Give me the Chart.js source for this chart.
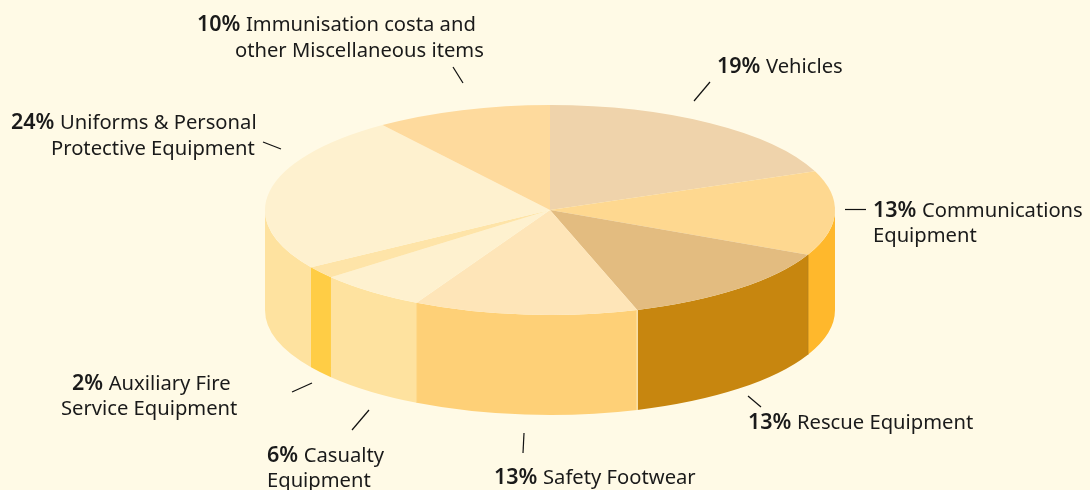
<!DOCTYPE html>
<html lang="en">
<head>
    <meta charset="UTF-8">
    <title>Expenditure breakdown</title>
    <script src="https://cdn.jsdelivr.net/npm/chart.js"></script>
    <style>
        html, body { margin: 0; padding: 0; background: #FFFAE6; overflow: hidden; }
        canvas { display: block; }
    </style>
</head>
<body>
    <canvas id="pieChart" width="1090" height="490"></canvas>

    <script>
        const categories = ['Vehicles', 'Communications Equipment', 'Rescue Equipment', 'Safety Footwear',
            'Casualty Equipment', 'Auxiliary Fire Service Equipment', 'Uniforms & Personal Protective Equipment',
            'Immunisation costa and other Miscellaneous items'];
        // printed (rounded) percentages
        const shareLabels = [19, 13, 13, 13, 6, 2, 24, 10];
        // slice sizes
        const sliceValues = [19, 13, 13.05, 12.7, 6.2, 1.88, 24.17, 10];
        const topColors = ['#EFD3AB', '#FED890', '#E3BC80', '#FEE5B8', '#FEF1CF', '#FEE4A8', '#FEF1CF', '#FEDA9D'];
        const wallColors = ['#EFD3AB', '#FFB82C', '#C7860F', '#FED077', '#FEE29F', '#FFCD45', '#FEE29F', '#FEDA9D'];
        // thin line on the wall at the start of each slice
        const seamColors = [null, null, '#B57C10', '#FFF3D0', '#FED88A', null, null, null];

        // pie shape on the page
        const pie = { x: 550, y: 210, rx: 285, ry: 105, depth: 100 };

        // label lines: first line of each gets the bold share in front of it
        const labelLines = [
            [['Vehicles', 717, 73]],
            [['Communications', 873, 217], ['Equipment', 873, 242]],
            [['Rescue Equipment', 748, 429]],
            [['Safety Footwear', 494, 484]],
            [['Casualty', 267, 462], ['Equipment', 267, 487]],
            [['Auxiliary Fire', 72, 390], ['Service Equipment', 61, 415]],
            [['Uniforms & Personal', 11, 129], ['Protective Equipment', 51, 155]],
            [['Immunisation costa and', 197, 31], ['other Miscellaneous items', 235, 57]]
        ];
        const leaders = [
            [710, 82, 694, 101], [845, 209.5, 866, 209.5], [748, 396, 761, 407], [524, 433, 523, 453],
            [352, 430, 369, 410], [292, 392, 312, 383], [263, 142, 281, 149], [453, 67, 463, 83]
        ];

        const fontFamily = '"Noto Sans", sans-serif';
        const textSize = 20.2;
        const shareSize = 21.5;

        const pie3d = {
            id: 'pie3d',
            beforeDatasetsDraw(chart) {
                const ctx = chart.ctx;
                const arcs = chart.getDatasetMeta(0).data;
                // side wall, only the front half of the disc can be seen
                arcs.forEach((arc, i) => {
                    const from = Math.max(arc.startAngle, 0);
                    const to = Math.min(arc.endAngle, Math.PI);
                    if (to <= from) return;
                    ctx.beginPath();
                    ctx.ellipse(pie.x, pie.y, pie.rx, pie.ry, 0, from, to);
                    ctx.ellipse(pie.x, pie.y + pie.depth, pie.rx, pie.ry, 0, to, from, true);
                    ctx.closePath();
                    ctx.fillStyle = wallColors[i];
                    ctx.fill();
                });
                arcs.forEach((arc, i) => {
                    if (!seamColors[i]) return;
                    const sx = pie.x + pie.rx * Math.cos(arc.startAngle);
                    const sy = pie.y + pie.ry * Math.sin(arc.startAngle);
                    ctx.beginPath();
                    ctx.moveTo(sx, sy);
                    ctx.lineTo(sx, sy + pie.depth);
                    ctx.strokeStyle = seamColors[i];
                    ctx.lineWidth = 1;
                    ctx.stroke();
                });
                // squash the flat pie into the top of the disc
                const a = arcs[0];
                ctx.save();
                ctx.translate(pie.x, pie.y);
                ctx.scale(pie.rx / a.outerRadius, pie.ry / a.outerRadius);
                ctx.translate(-a.x, -a.y);
            },
            afterDatasetsDraw(chart) {
                const ctx = chart.ctx;
                ctx.restore();

                ctx.strokeStyle = '#111111';
                ctx.lineWidth = 1.2;
                leaders.forEach(l => {
                    ctx.beginPath();
                    ctx.moveTo(l[0], l[1]);
                    ctx.lineTo(l[2], l[3]);
                    ctx.stroke();
                });

                ctx.fillStyle = '#1a1a1a';
                ctx.textBaseline = 'alphabetic';
                ctx.textAlign = 'left';
                labelLines.forEach((lines, i) => {
                    lines.forEach((line, n) => {
                        let x = line[1];
                        if (n === 0) {
                            const share = shareLabels[i] + '% ';
                            ctx.font = '600 ' + shareSize + 'px ' + fontFamily;
                            ctx.fillText(share, x, line[2]);
                            x += ctx.measureText(share).width;
                        }
                        ctx.font = textSize + 'px ' + fontFamily;
                        ctx.fillText(line[0], x, line[2]);
                    });
                });
            }
        };

        new Chart(document.getElementById('pieChart'), {
            type: 'pie',
            data: {
                labels: categories,
                datasets: [{
                    data: sliceValues,
                    backgroundColor: topColors,
                    borderWidth: 0,
                    clip: false
                }]
            },
            options: {
                responsive: false,
                animation: false,
                events: [],
                plugins: {
                    legend: { display: false },
                    tooltip: { enabled: false }
                }
            },
            plugins: [pie3d]
        });
    </script>
</body>
</html>
